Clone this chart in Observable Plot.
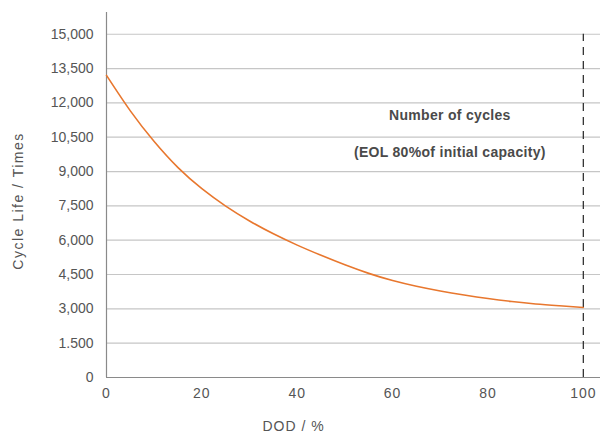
<!DOCTYPE html>
<html>
<head>
<meta charset="utf-8">
<script src="https://cdn.jsdelivr.net/npm/d3@7"></script>
<script src="https://cdn.jsdelivr.net/npm/@observablehq/plot@0.6"></script>
<style>
  html, body { margin: 0; padding: 0; background: #fff; }
  #chart svg { display: block; }
  .xtick text { letter-spacing: 1px; }
  .ylab text { letter-spacing: 1.5px; }
  .xlab text { letter-spacing: 1px; }
  .note text { letter-spacing: 0.3px; }
</style>
</head>
<body>
<div id="chart"></div>
<script>
// Depth of discharge (%) and cycle life (times)
const dod = [0, 5, 10, 15, 20, 25, 30, 35, 40, 45, 50, 55, 60, 65, 70, 75, 80, 85, 90, 95, 100];
const cycles = [13200, 11650, 10310, 9170, 8250, 7490, 6840, 6280, 5785, 5340, 4925, 4550, 4235, 3985, 3780, 3605, 3450, 3320, 3215, 3135, 3060];

const yTicks = [0, 1500, 3000, 4500, 6000, 7500, 9000, 10500, 12000, 13500, 15000];
const yTickLabels = ["0", "1.500", "3,000", "4,500", "6,000", "7,500", "9,000", "10,500", "12,000", "13,500", "15,000"];
const xTicks = [0, 20, 40, 60, 80, 100];
const eolDod = [100];

const noteLines = ["Number of cycles", "(EOL 80%of initial capacity)"];
const noteDod = [72, 72];
const noteCycles = [11450, 9830];

const data = dod.map((d, i) => ({dod: d, cycles: cycles[i]}));
const notes = noteLines.map((t, i) => ({text: t, dod: noteDod[i], cycles: noteCycles[i]}));
const tickLabel = new Map(yTicks.map((v, i) => [v, yTickLabels[i]]));

const chart = Plot.plot({
  width: 604,
  height: 437,
  marginLeft: 106,
  marginRight: 4,
  marginTop: 12,
  marginBottom: 60,
  style: {fontFamily: "'Liberation Sans', Arial, sans-serif", fontSize: "14px", color: "#555", background: "#fff"},
  x: {domain: [0, 103.6], axis: null},
  y: {domain: [0, 15950], axis: null},
  marks: [
    Plot.ruleY(yTicks.filter(v => v > 0), {stroke: "#c6c6c6", strokeWidth: 1.2}),
    Plot.ruleX([0], {y1: 0, y2: 15950, stroke: "#8a8a8a", strokeWidth: 1.2}),
    Plot.ruleY([0], {stroke: "#8a8a8a", strokeWidth: 1.2}),
    Plot.ruleX(eolDod, {y1: 0, y2: 15000, stroke: "#333", strokeWidth: 1.3, strokeDasharray: "8,6"}),
    Plot.line(data, {x: "dod", y: "cycles", stroke: "#e8772e", strokeWidth: 1.6, curve: "natural"}),
    Plot.axisY({ticks: yTicks, tickFormat: v => tickLabel.get(v), tickSize: 0, tickPadding: 13, fill: "#555", fontSize: 14, label: null}),
    Plot.axisX({ticks: xTicks, tickSize: 0, tickPadding: 11, fill: "#555", fontSize: 14, label: null, className: "xtick"}),
    Plot.text(["DOD / %"], {frameAnchor: "bottom", textAnchor: "middle", dx: -60, dy: 53, fill: "#555", fontSize: 14, className: "xlab"}),
    Plot.text(["Cycle Life / Times"], {frameAnchor: "left", textAnchor: "middle", rotate: -90, dx: -88, dy: 6, fill: "#555", fontSize: 14, className: "ylab"}),
    Plot.text(notes, {x: "dod", y: "cycles", text: "text", fill: "#4a4a4a", fontSize: 14, fontWeight: "bold", className: "note"})
  ]
});
document.getElementById("chart").appendChild(chart);
</script>
</body>
</html>
